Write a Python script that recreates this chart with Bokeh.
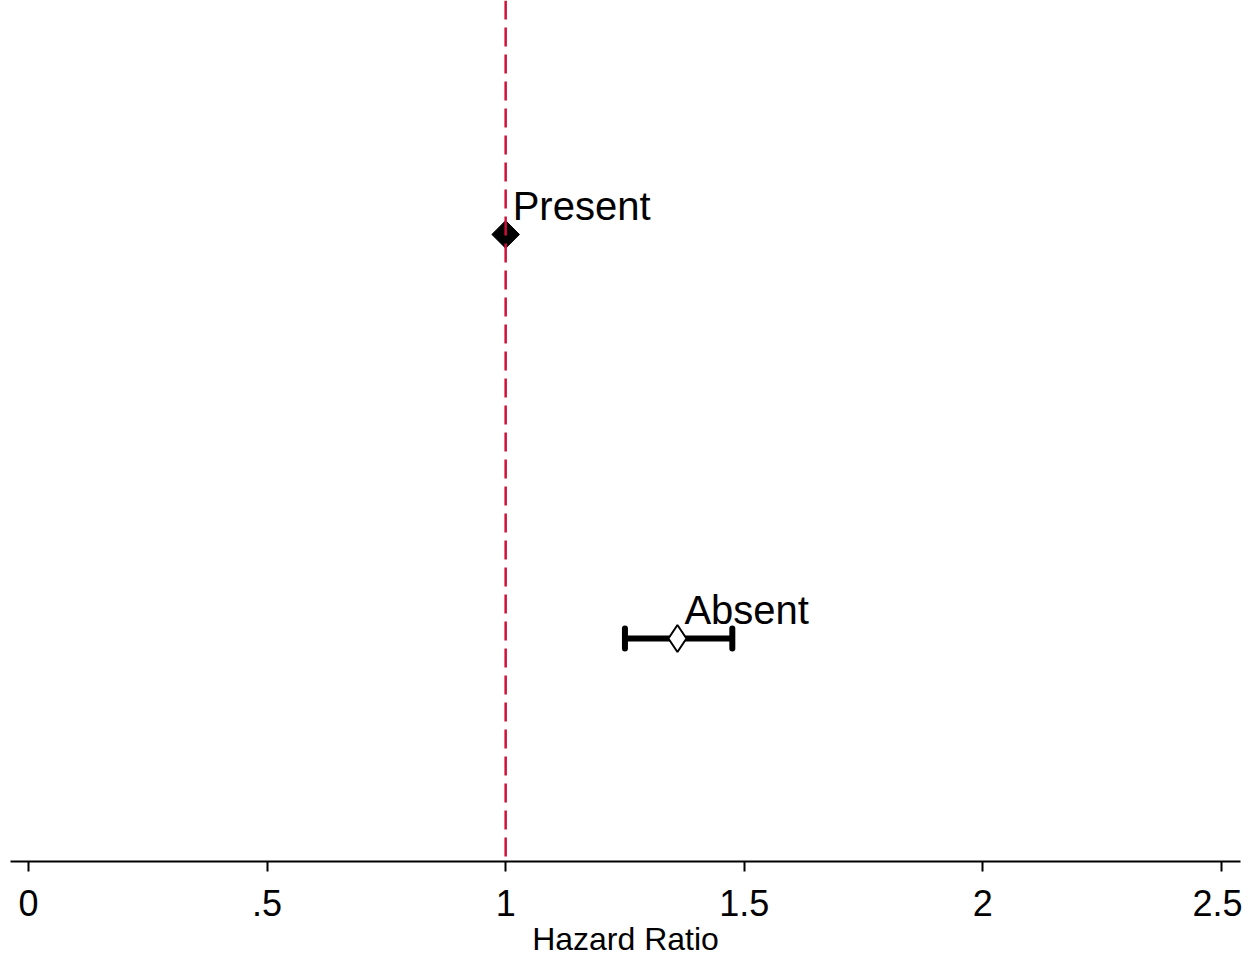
from bokeh.plotting import figure
from bokeh.models import Span, FixedTicker, Range1d, ColumnDataSource
from bokeh.core.properties import value
from bokeh.embed import file_html
from bokeh.resources import INLINE
import math

# ---- data ----
groups = ["Present", "Absent"]
group_pos = [2, 1]
hazard_ratio = [1.0, 1.36]
ci_low = [1.25]
ci_high = [1.475]
ci_pos = [1]
tick_values = [0, 0.5, 1, 1.5, 2, 2.5]
tick_labels = ["0", ".5", "1", "1.5", "2", "2.5"]

FONT = "Liberation Sans"

p = figure(width=1242, height=961, output_backend="svg", toolbar_location=None,
           x_range=Range1d(-0.0377, 2.540), y_range=Range1d(0.448, 2.579),
           min_border_left=10, min_border_right=2, min_border_top=0, min_border_bottom=100)
p.outline_line_color = None
p.xgrid.visible = False
p.ygrid.visible = False
p.yaxis.visible = False
p.background_fill_color = "white"
p.border_fill_color = "white"

# reference line
p.add_layout(Span(location=1, dimension="height", line_color="#D01038",
                  line_width=2.5, line_dash="19 8"))

# CI bar
ci_src = ColumnDataSource(dict(lo=ci_low, hi=ci_high, y=ci_pos))
p.segment(x0="lo", y0="y", x1="hi", y1="y", source=ci_src, line_color="black", line_width=6)
p.scatter(x="lo", y="y", source=ci_src, marker="dash", angle=math.pi / 2, size=20,
          line_color="black", line_width=6, line_cap="round")
p.scatter(x="hi", y="y", source=ci_src, marker="dash", angle=math.pi / 2, size=20,
          line_color="black", line_width=6, line_cap="round")

# points
p.scatter(x=[hazard_ratio[0]], y=[group_pos[0]], marker="square", angle=math.pi / 4,
          size=19.5, fill_color="black", line_color="black", line_width=1)
p.scatter(x=[hazard_ratio[1]], y=[group_pos[1]], marker="diamond",
          size=27, fill_color="white", line_color="black", line_width=2)

# labels
lab_src = ColumnDataSource(dict(x=hazard_ratio, y=group_pos, t=groups))
p.text(x="x", y="y", text="t", source=lab_src, x_offset=7, y_offset=-28,
       text_font=value(FONT), text_font_size="40px", text_color="black",
       text_baseline="alphabetic", text_align="left")

# x axis
ax = p.xaxis[0]
ax.ticker = FixedTicker(ticks=tick_values)
ax.major_label_overrides = {v: l for v, l in zip(tick_values, tick_labels)}
ax.minor_tick_line_color = None
ax.major_tick_in = 0
ax.major_tick_out = 10
ax.major_tick_line_width = 2
ax.axis_line_width = 2
ax.axis_line_color = "black"
ax.major_tick_line_color = "black"
ax.major_label_text_font = FONT
ax.major_label_text_font_size = "36px"
ax.major_label_text_color = "black"
ax.major_label_standoff = 18
ax.axis_label = "Hazard Ratio"
ax.axis_label_text_font = FONT
ax.axis_label_text_font_size = "32px"
ax.axis_label_text_font_style = "normal"
ax.axis_label_text_color = "black"
ax.axis_label_standoff = 2

open("out.html", "w").write(file_html(p, INLINE))
